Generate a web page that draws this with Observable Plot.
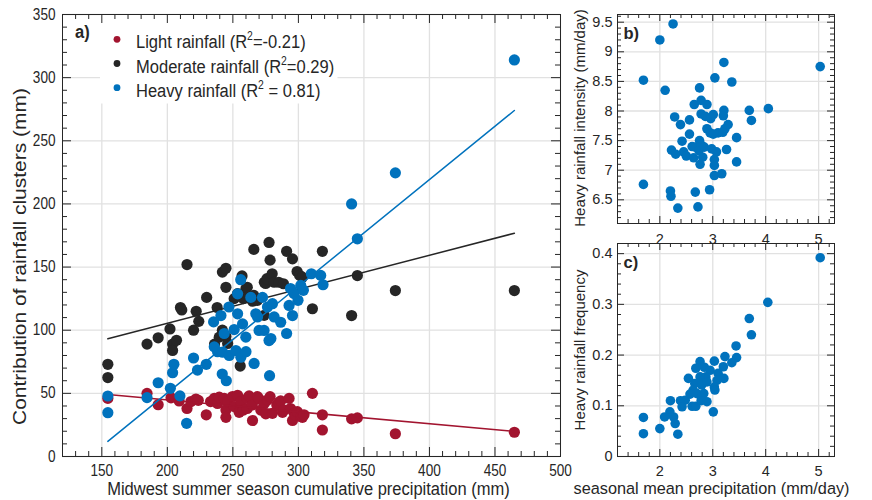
<!DOCTYPE html>
<html><head><meta charset="utf-8">
<script src="https://cdn.jsdelivr.net/npm/d3@7"></script>
<script src="https://cdn.jsdelivr.net/npm/@observablehq/plot@0.6"></script>
<style>
body{margin:0;background:#fff;}
#wrap{position:relative;width:872px;height:500px;overflow:hidden;background:#fff}
#wrap svg{position:absolute;overflow:visible}
</style></head><body><div id="wrap"></div>
<script>
// ---------- DATA ----------
// Panel a: contribution of rainfall clusters (mm) vs Midwest summer cumulative precipitation (mm)
const lightX = [154.6,184.5,193,202.8,209,215,218,221.8,223.6,229.7,233,235.8,238.3,239.6,243.4,244.7,244.7,246,249.7,251,253.6,254.8,256,258,261,261,262.4,264.8,265,268.8,270,271.3,273.9,275.1,276.4,278.4,280.2,283.5,285.3,286.5,287.9,289,292.9,294,295.5,296.7,298,299.2,301.8,303.1,304.3,310.7,318.3,318.3,340.6,345,374,464.8];
const lightY = [46,50,41,46.5,44,38,43.5,45.5,44.5,33,43.5,46,42,47,46,36.8,31,43.4,47.5,39.5,48.5,35,43.4,36.8,46,38,48,40.8,28.5,47.4,45.5,36.8,42,33.8,44.7,47.4,34.2,40.8,43,44,35,36.8,46,38,28.5,34.2,32.5,35.5,31.6,31,33,50,33,21,29.8,30.6,18,19.2];

const moderateX = [154.6,154.6,184.5,193,202,204,204,207,210,211,215,220,222,224,230,236,238,239.6,242,242,244.7,244.7,244.7,246,251,253.6,255.6,257,258,260,261,262,265,266,266,268.8,273.9,274,275,276,277.6,278.4,280,281.5,285,288.6,291,295.5,299,301,303,310.7,318.3,340.6,345,374,464.8];
const moderateY = [73,62.5,89,94,101,89,84,92,118,116,152,100,115,107,126,89,118,94.5,100,146,149,134,95,89.5,125,129,71.6,143,125,133,134,127,123,164,127.6,123.7,111.8,138,137,140.8,169.5,155.5,144.7,138,138,136.8,162.5,156.5,146.5,143.4,142,117,162.5,111.6,143.3,131.4,131.4];

const heavyX = [154.6,154.6,184.5,193,202.3,204,205,209.6,214.7,220,223,229.7,235.3,235.8,238.3,240.9,241.9,242.2,243.4,245,247,247.2,251,252.3,253.6,253.6,256,256.1,257.4,259.9,260,263.7,266.2,267.5,268.8,270,272.6,273.8,276.4,277.6,278,279,280.2,281.5,286.5,291,292.9,294,295.5,296.7,299.7,301.8,303.8,309.9,317,318.8,340.6,345,374,464.8];
const heavyY = [47.9,34.7,46.6,58.4,54,66.3,73,48,26.3,78,68.4,73,106.6,86.8,83,111.6,65.3,82.6,97.4,60,118.4,80,100.5,83.9,113,128.8,140,78.6,105,94.5,83,126,73.7,113,110.5,99.8,126,99.8,118.4,91.8,64,93.4,121,110.5,106.3,97.4,119.6,133,111.6,129,123.7,135.5,131.6,144.7,143.4,136,200,172.4,224.6,314];

// fitted trend lines (end points)
const trendX = [154.6, 464.8];
const trendLight = [49, 19.8];
const trendModerate = [93.2, 176.8];
const trendHeavy = [12, 274];

// Panel b: heavy rainfall intensity (mm/day) vs seasonal mean precipitation (mm/day)
const intensX = [2.25,2.0,3.21,1.69,3.04,3.36,5.03,2.1,2.75,2.65,2.78,2.89,3.21,3.69,4.05,3.73,2.28,2.39,2.56,2.78,2.86,2.96,3.01,3.2,3.29,3.23,3.1,3.19,2.89,2.95,3.01,2.56,2.42,3.45,2.75,2.79,2.67,2.61,2.74,2.84,2.98,3.07,3.26,2.22,2.3,2.45,2.5,2.64,2.81,2.76,3.03,3.03,3.45,3.03,3.17,1.69,2.2,2.21,2.67,2.94,2.34,2.72];
const intensY = [9.47,9.2,8.82,8.52,8.56,8.49,8.75,8.35,8.39,8.11,8.18,8.11,8.01,8.01,8.04,7.84,7.9,7.77,7.85,7.95,7.91,7.87,7.94,7.92,7.77,7.7,7.63,7.64,7.7,7.63,7.61,7.61,7.49,7.55,7.5,7.42,7.39,7.4,7.33,7.39,7.36,7.31,7.35,7.34,7.27,7.31,7.24,7.21,7.22,7.1,7.18,7.08,7.14,6.91,6.94,6.76,6.65,6.56,6.63,6.67,6.36,6.38];

// Panel c: heavy rainfall frequency vs seasonal mean precipitation (mm/day)
const freqX = [5.03,4.04,3.69,3.73,3.44,3.45,3.23,3.36,3.2,2.76,3.03,2.54,2.68,2.84,2.95,3.1,3.21,3.08,2.87,2.76,2.66,2.79,2.89,3.03,3.04,2.63,2.7,2.57,2.79,2.83,2.48,2.39,2.2,2.42,2.61,2.68,2.78,2.89,3.01,2.19,2.26,2.09,2.29,1.69,2.0,1.69,2.34];
const freqY = [0.392,0.304,0.272,0.24,0.218,0.195,0.197,0.185,0.177,0.187,0.188,0.154,0.174,0.176,0.17,0.164,0.154,0.15,0.157,0.157,0.144,0.141,0.147,0.137,0.131,0.131,0.124,0.123,0.117,0.124,0.111,0.11,0.11,0.098,0.099,0.099,0.11,0.108,0.088,0.088,0.078,0.078,0.065,0.077,0.055,0.045,0.044];

// tick labels
const mainXTicks = [150,200,250,300,350,400,450,500];
const mainYTicks = [0,50,100,150,200,250,300,350];
const smallXTicks = [2,3,4,5];
const intensTicks = [6.5,7,7.5,8,8.5,9,9.5];
const freqTicks = [0,0.1,0.2,0.3,0.4];

// legend texts
const legendNames = ["Light rainfall (R", "Moderate rainfall (R", "Heavy rainfall (R"];
const legendTails = ["=-0.21)", "=0.29)", " = 0.81)"];

// ---------- STYLE ----------
const FONT = "'Liberation Sans', Arial, Helvetica, sans-serif";
const INK = "#262626", GRID = "#e1e1e1";
const RED = "#A2142F", BLK = "#262626", BLUE = "#0072BD";
const legendColors = [RED, BLK, BLUE];
const fmt = d => String(d);

const pts = (xs, ys) => xs.map((x, i) => ({x, y: ys[i]}));
const wrap = document.getElementById("wrap");

function frameTicks(major, minorX, majorY, minorY, iw, ih, lenMaj, lenMin) {
  const m = [];
  for (const [xs, len] of [[major, lenMaj], [minorX, lenMin]]) {
    m.push(Plot.ruleX(xs, {x: d => d, stroke: INK, strokeWidth: 1, insetTop: ih - len}));
    m.push(Plot.ruleX(xs, {x: d => d, stroke: INK, strokeWidth: 1, insetBottom: ih - len}));
  }
  for (const [ys, len] of [[majorY, lenMaj], [minorY, lenMin]]) {
    m.push(Plot.ruleY(ys, {y: d => d, stroke: INK, strokeWidth: 1, insetRight: iw - len}));
    m.push(Plot.ruleY(ys, {y: d => d, stroke: INK, strokeWidth: 1, insetLeft: iw - len}));
  }
  return m;
}
function place(svg, left, top) {
  svg.style.position = "absolute";
  svg.style.left = left + "px";
  svg.style.top = top + "px";
  wrap.appendChild(svg);
}
function squeeze(svg, k) {
  svg.querySelectorAll('[aria-label*="tick label"] text').forEach(t => {
    const tr = t.getAttribute("transform");
    if (tr) t.setAttribute("transform", tr + ` scale(${k},1)`);
  });
}

// ---------- PANEL a ----------
{
  const W = 570, H = 500, L = 62, R = 10, T = 14, B = 44;
  const iw = W - L - R, ih = H - T - B;
  const xMinor = d3.range(130, 500, 10).filter(v => v % 50 !== 0);
  const yMinor = d3.range(10, 350, 10).filter(v => v % 50 !== 0);
  const svg = Plot.plot({
    width: W, height: H, marginLeft: L, marginRight: R, marginTop: T, marginBottom: B,
    x: {domain: [120, 500]}, y: {domain: [0, 350]},
    style: {fontFamily: FONT, fontSize: "16px", color: INK, background: "transparent", overflow: "visible"},
    marks: [
      Plot.gridX(mainXTicks, {stroke: GRID, strokeOpacity: 1, strokeWidth: 1.3}),
      Plot.gridY(mainYTicks, {stroke: GRID, strokeOpacity: 1, strokeWidth: 1.3}),
      // white legend box
      Plot.frame({fill: "white", stroke: null, insetLeft: 37.5, insetTop: 0.5, insetRight: iw - 275, insetBottom: ih - 89}),
      ...frameTicks(mainXTicks, xMinor, mainYTicks, yMinor, iw, ih, 9, 5),
      Plot.frame({stroke: INK, strokeWidth: 1}),
      Plot.axisX(mainXTicks, {tickSize: 0, tickPadding: 8, label: null}),
      Plot.axisY(mainYTicks, {tickSize: 0, tickPadding: 7, label: null}),
      Plot.dot(pts(lightX, lightY), {x: "x", y: "y", r: 5.6, fill: RED}),
      Plot.line(pts(trendX, trendLight), {x: "x", y: "y", stroke: RED, strokeWidth: 1.5}),
      Plot.dot(pts(moderateX, moderateY), {x: "x", y: "y", r: 5.6, fill: BLK}),
      Plot.line(pts(trendX, trendModerate), {x: "x", y: "y", stroke: BLK, strokeWidth: 1.5}),
      Plot.dot(pts(heavyX, heavyY), {x: "x", y: "y", r: 5.6, fill: BLUE}),
      Plot.line(pts(trendX, trendHeavy), {x: "x", y: "y", stroke: BLUE, strokeWidth: 1.5})
    ]
  });
  squeeze(svg, 0.85);
  place(svg, 0, 0);
}

// ---------- PANEL b ----------
{
  const W = 302, H = 245, L = 47, R = 38, T = 14, B = 22;
  const iw = W - L - R, ih = H - T - B;
  const xMinor = d3.range(1.4, 5.3, 0.2).filter(v => Math.abs(v - Math.round(v)) > 0.01);
  const yMinor = d3.range(6.2, 9.62, 0.1).filter(v => Math.abs(v * 2 - Math.round(v * 2)) > 0.01);
  const svg = Plot.plot({
    width: W, height: H, marginLeft: L, marginRight: R, marginTop: T, marginBottom: B,
    x: {domain: [1.2, 5.3]}, y: {domain: [6.1, 9.63]},
    style: {fontFamily: FONT, fontSize: "14.5px", color: INK, background: "transparent", overflow: "visible"},
    marks: [
      Plot.gridX(smallXTicks, {stroke: GRID, strokeOpacity: 1, strokeWidth: 1.3}),
      Plot.gridY(intensTicks, {stroke: GRID, strokeOpacity: 1, strokeWidth: 1.3}),
      ...frameTicks(smallXTicks, xMinor, intensTicks, yMinor, iw, ih, 7, 4),
      Plot.frame({stroke: INK, strokeWidth: 1}),
      Plot.axisX(smallXTicks, {tickSize: 0, tickPadding: 10, label: null, tickFormat: fmt}),
      Plot.axisY(intensTicks, {tickSize: 0, tickPadding: 5, label: null, tickFormat: fmt}),
      Plot.dot(pts(intensX, intensY), {x: "x", y: "y", r: 4.8, fill: BLUE})
    ]
  });
  place(svg, 570, 0);
}

// ---------- PANEL c ----------
{
  const W = 302, H = 270, L = 47, R = 38, T = 13, B = 44;
  const iw = W - L - R, ih = H - T - B;
  const xMinor = d3.range(1.4, 5.3, 0.2).filter(v => Math.abs(v - Math.round(v)) > 0.01);
  const yMinor = d3.range(0.02, 0.42, 0.02).filter(v => Math.abs(v * 10 - Math.round(v * 10)) > 0.01);
  const svg = Plot.plot({
    width: W, height: H, marginLeft: L, marginRight: R, marginTop: T, marginBottom: B,
    x: {domain: [1.2, 5.3]}, y: {domain: [0, 0.42]},
    style: {fontFamily: FONT, fontSize: "14.5px", color: INK, background: "transparent", overflow: "visible"},
    marks: [
      Plot.gridX(smallXTicks, {stroke: GRID, strokeOpacity: 1, strokeWidth: 1.3}),
      Plot.gridY(freqTicks, {stroke: GRID, strokeOpacity: 1, strokeWidth: 1.3}),
      ...frameTicks(smallXTicks, xMinor, freqTicks, yMinor, iw, ih, 7, 4),
      Plot.frame({stroke: INK, strokeWidth: 1}),
      Plot.axisX(smallXTicks, {tickSize: 0, tickPadding: 9, label: null, tickFormat: fmt}),
      Plot.axisY(freqTicks, {tickSize: 0, tickPadding: 5, label: null, tickFormat: fmt}),
      Plot.dot(pts(freqX, freqY), {x: "x", y: "y", r: 4.8, fill: BLUE})
    ]
  });
  place(svg, 570, 230);
}

// ---------- OVERLAY: legend, panel letters, axis titles ----------
{
  const ov = d3.select(wrap).append("svg")
    .attr("width", 872).attr("height", 500)
    .style("left", "0px").style("top", "0px")
    .style("font-family", FONT).style("fill", INK);
  const baselines = [48.3, 72.5, 96.7];
  legendNames.forEach((name, i) => {
    ov.append("circle").attr("cx", 117).attr("cy", baselines[i] - 9).attr("r", 3.4).attr("fill", legendColors[i]);
    const t = ov.append("text").attr("transform", `translate(136,${baselines[i]}) scale(0.87,1)`)
      .attr("font-size", 19).attr("fill", INK);
    t.append("tspan").text(name);
    t.append("tspan").attr("dy", -8).attr("font-size", 12).text("2");
    t.append("tspan").attr("dy", 8).text(legendTails[i]);
  });
  const label = (txt, x, y, size, opts = {}) => {
    const t = ov.append("text").attr("transform", `translate(${x},${y})` + (opts.tr || ""))
      .attr("font-size", size).attr("fill", INK).attr("text-anchor", opts.anchor || "start")
      .attr("font-weight", opts.bold ? "bold" : null).text(txt);
    return t;
  };
  label("a)", 75, 38.3, 19, {bold: true, tr: " scale(0.87,1)"});
  label("b)", 623.5, 39, 16.5, {bold: true});
  label("c)", 623.5, 268.3, 16.5, {bold: true});
  label("Midwest summer season cumulative precipitation (mm)", 308.4, 495, 18.5, {anchor: "middle", tr: " scale(0.893,1)"});
  label("Contribution of rainfall clusters (mm)", 26, 256.5, 21, {anchor: "middle", tr: " scale(0.85,1) rotate(-90)"});
  label("Heavy rainfall intensity (mm/day)", 585, 118, 15, {anchor: "middle", tr: " rotate(-90)"});
  label("Heavy rainfall frequency", 585, 350, 15, {anchor: "middle", tr: " rotate(-90)"});
  label("seasonal mean precipitation (mm/day)", 711.5, 494, 16.3, {anchor: "middle"});
}
</script>
</body></html>
